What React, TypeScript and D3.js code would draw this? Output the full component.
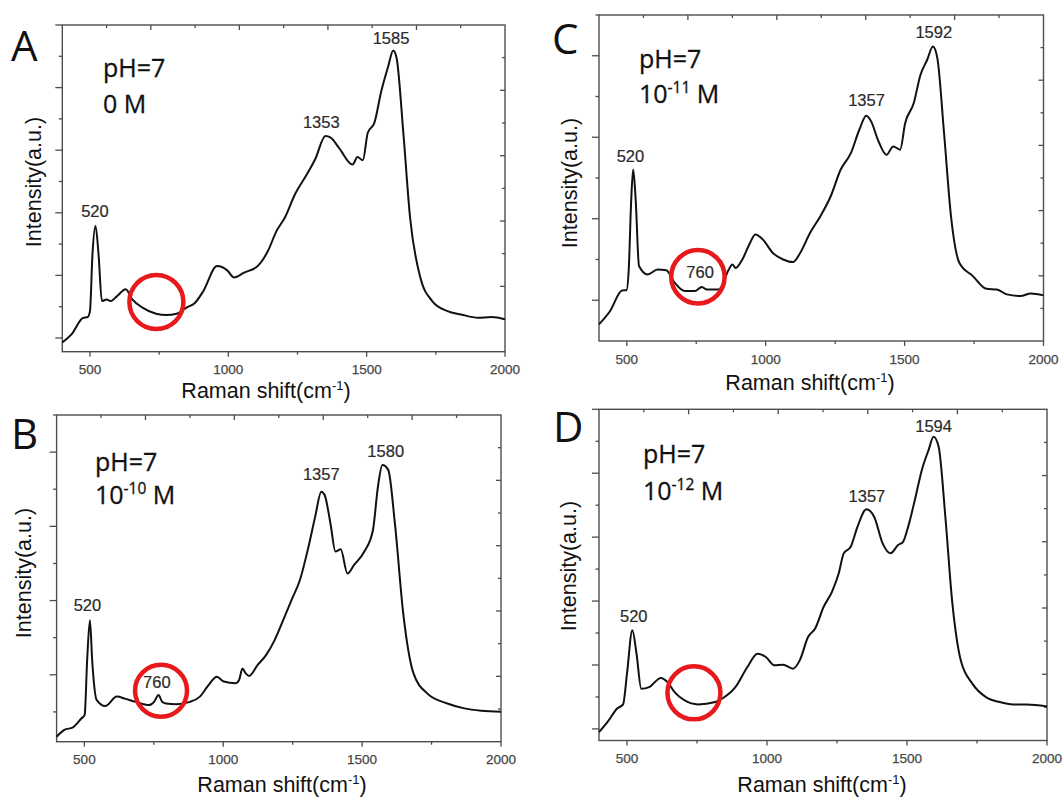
import React from "react";
import * as d3 from "d3";

// ---------- data ----------
const shiftMajorTicks = [500, 1000, 1500, 2000];
const shiftMinorTicks = [750, 1250, 1750];
const shiftTickLabels = ["500", "1000", "1500", "2000"];

const shiftA = [400, 433, 476, 492, 500, 509, 520, 531, 543, 561, 574, 598, 629, 653, 690, 739, 776, 813, 849, 880, 910, 959, 996, 1021, 1057, 1106, 1143, 1174, 1204, 1241, 1284, 1314, 1351, 1370, 1400, 1449, 1467, 1486, 1504, 1528, 1553, 1578, 1596, 1608, 1633, 1657, 1694, 1737, 1792, 1841, 1902, 1951, 2000];
const intensityA = [2.8, 5.3, 10.4, 10.6, 12.4, 29.8, 38.5, 29.8, 15.5, 16.0, 15.5, 17.0, 19.1, 16.0, 13.5, 11.6, 11.2, 11.6, 13.5, 15.0, 18.6, 26.2, 24.9, 22.7, 24.2, 26.2, 30.8, 36.9, 41.0, 48.2, 54.3, 58.9, 66.0, 65.5, 62.4, 57.3, 59.6, 58.6, 67.0, 70.1, 79.8, 87.4, 92.2, 90.0, 66.5, 41.0, 22.7, 15.5, 12.4, 11.4, 10.4, 10.6, 9.9];

const shiftB = [400, 428, 459, 489, 501, 510, 520, 528, 544, 575, 617, 648, 684, 733, 751, 767, 780, 794, 831, 880, 916, 947, 977, 1002, 1044, 1057, 1069, 1081, 1093, 1124, 1154, 1185, 1221, 1246, 1276, 1307, 1331, 1353, 1365, 1386, 1404, 1423, 1447, 1471, 1508, 1539, 1557, 1573, 1594, 1618, 1648, 1685, 1734, 1807, 1868, 1929, 2000];
const intensityB = [1.5, 3.6, 4.4, 7.1, 8.2, 25.0, 37.2, 25.0, 12.8, 10.9, 13.8, 13.1, 12.2, 11.2, 12.2, 14.3, 12.2, 11.7, 11.5, 12.2, 13.8, 17.3, 19.9, 18.4, 17.9, 18.9, 22.4, 20.9, 20.1, 23.5, 26.5, 31.1, 38.3, 43.4, 49.5, 59.7, 68.9, 76.5, 75.5, 66.8, 58.2, 58.9, 51.5, 54.1, 58.2, 64.8, 78.1, 84.7, 83.2, 66.8, 39.3, 20.9, 14.8, 11.7, 10.2, 9.5, 9.2];

const shiftC = [400, 440, 483, 499, 507, 516, 523, 532, 544, 575, 611, 642, 672, 709, 745, 770, 788, 831, 867, 880, 892, 916, 941, 963, 990, 1026, 1063, 1099, 1124, 1160, 1197, 1234, 1270, 1307, 1337, 1362, 1380, 1404, 1435, 1459, 1484, 1502, 1533, 1557, 1581, 1602, 1618, 1642, 1667, 1697, 1746, 1795, 1832, 1868, 1917, 1954, 2000];
const intensityC = [5.1, 9.2, 15.5, 15.6, 21.9, 43.4, 52.6, 43.4, 23.0, 20.4, 21.9, 21.7, 17.9, 15.3, 15.3, 16.6, 15.8, 15.8, 21.9, 23.5, 22.4, 25.0, 29.6, 32.7, 31.1, 27.0, 25.0, 24.2, 27.0, 33.2, 38.3, 44.4, 52.6, 57.7, 64.8, 69.1, 67.3, 61.7, 57.1, 59.7, 58.7, 66.8, 73.0, 81.6, 86.2, 90.3, 86.7, 63.8, 38.3, 24.0, 19.9, 16.0, 15.8, 14.3, 13.8, 14.6, 14.0];

const shiftD = [400, 434, 464, 486, 500, 519, 534, 551, 579, 621, 645, 670, 706, 754, 815, 839, 887, 930, 966, 996, 1026, 1057, 1093, 1117, 1147, 1172, 1202, 1232, 1256, 1274, 1299, 1323, 1355, 1383, 1413, 1441, 1468, 1486, 1504, 1528, 1553, 1577, 1595, 1613, 1637, 1661, 1692, 1734, 1782, 1831, 1879, 1927, 2000];
const intensityD = [2.5, 6.0, 9.6, 10.9, 20.2, 33.3, 26.2, 15.6, 16.1, 18.9, 17.6, 14.6, 12.1, 10.9, 11.6, 12.6, 16.1, 22.2, 26.2, 25.2, 22.7, 22.9, 21.7, 24.2, 31.3, 33.8, 40.3, 44.9, 50.4, 56.5, 58.5, 64.5, 69.8, 67.5, 59.5, 56.5, 59.0, 60.0, 64.5, 72.6, 81.7, 87.7, 91.7, 88.7, 67.5, 42.3, 24.2, 17.1, 13.1, 11.6, 10.9, 10.9, 10.3];

// peak annotations (text, anchor shift, anchor intensity)
const peakTextA = ["520", "1353", "1585"];
const peakShiftA = [518, 1336, 1588];
const peakLevelA = [41.3, 68.6, 94.1];
const peakTextB = ["520", "760", "1357", "1580"];
const peakShiftB = [511, 761, 1353, 1585];
const peakLevelB = [40.1, 16.3, 80.1, 87.1];
const peakTextC = ["520", "760", "1357", "1592"];
const peakShiftC = [513, 764, 1363, 1605];
const peakLevelC = [55.0, 19.2, 72.1, 93.0];
const peakTextD = ["520", "1357", "1594"];
const peakShiftD = [524, 1357, 1595];
const peakLevelD = [35.9, 72.1, 93.2];

// circled region (shift, intensity) per panel
const circleShift = [740, 776, 756, 739];
const circleLevel = [15.2, 15.6, 19.7, 14.4];

const panelLetters = ["A", "B", "C", "D"];
const concentrationBase = ["0", "10", "10", "10"];
const concentrationExp = ["", "-10", "-11", "-12"];

// ---------- layout ----------
const panels = [
  { letter: 0, shift: shiftA, level: intensityA, pt: peakTextA, ps: peakShiftA, pl: peakLevelA, circle: 0,
    x0: 62.3, x1: 505, y0: 25, y1: 351.7, leftStep: 9.58, leftN: 10, leftMajorOdd: false,
    letterX: 11, letterY: 61, phX: 103, phY: 76.7, concY: 113.3, titleX: 266, titleY: 398, yTitleX: 41, yTitleY: 182, r: 27 },
  { letter: 1, shift: shiftB, level: intensityB, pt: peakTextB, ps: peakShiftB, pl: peakLevelB, circle: 1,
    x0: 56.6, x1: 501, y0: 415, y1: 741.7, leftStep: 11.36, leftN: 8, leftMajorOdd: true,
    letterX: 11, letterY: 449, phX: 95, phY: 470.7, concY: 504, titleX: 282, titleY: 792, yTitleX: 31, yTitleY: 573, r: 26 },
  { letter: 2, shift: shiftC, level: intensityC, pt: peakTextC, ps: peakShiftC, pl: peakLevelC, circle: 2,
    x0: 599, x1: 1043.5, y0: 15, y1: 341, leftStep: 12.5, leftN: 7, leftMajorOdd: true,
    letterX: 552, letterY: 54, phX: 639, phY: 67.7, concY: 103.3, titleX: 810, titleY: 390, yTitleX: 577, yTitleY: 183, r: 26.7 },
  { letter: 3, shift: shiftD, level: intensityD, pt: peakTextD, ps: peakShiftD, pl: peakLevelD, circle: 3,
    x0: 599, x1: 1047, y0: 409.3, y1: 740.5, leftStep: 9.65, leftN: 10, leftMajorOdd: false,
    letterX: 553, letterY: 442, phX: 643, phY: 463, concY: 500, titleX: 822, titleY: 792, yTitleX: 576, yTitleY: 566, r: 26.5 },
];

const FRAME = "#4d4d4d";
const CIRCLE = "#e8191c";
const SANS = "'Liberation Sans', Arial, sans-serif";
const TEXTF = "'Open Sans', 'Noto Sans', sans-serif";

function Panel({ p }: { p: any }) {
  const x = d3.scaleLinear().domain([400, 2000]).range([p.x0, p.x1]);
  const y = d3.scaleLinear().domain([0, 100]).range([p.y1, p.y0]);
  const pts: [number, number][] = p.shift.map((s: number, i: number) => [s, p.level[i]]);
  const line = d3
    .line<[number, number]>()
    .x((d) => x(d[0]))
    .y((d) => y(d[1]))
    .curve(d3.curveMonotoneX);

  const leftTicks = d3.range(0, p.leftN + 1).map((k) => ({ v: 100 - k * p.leftStep, major: p.leftMajorOdd ? k % 2 === 1 : k % 2 === 0 }));
  const frac = d3.range(1, 10);
  const w = p.x1 - p.x0;
  const h = p.y1 - p.y0;
  const hasExp = !!concentrationExp[p.letter];

  return (
    <g>
      <rect x={p.x0} y={p.y0} width={w} height={h} fill="none" stroke={FRAME} strokeWidth={1.4} />
      {shiftMajorTicks.map((t) => (
        <line key={"bM" + t} x1={x(t)} x2={x(t)} y1={p.y1} y2={p.y1 + 5} stroke={FRAME} strokeWidth={1.3} />
      ))}
      {shiftMinorTicks.map((t) => (
        <line key={"bm" + t} x1={x(t)} x2={x(t)} y1={p.y1} y2={p.y1 + 3} stroke={FRAME} strokeWidth={1.3} />
      ))}
      {shiftMajorTicks.map((t, i) => (
        <text key={"bl" + t} x={x(t)} y={p.y1 + 22.5} textAnchor="middle" fontFamily={SANS} fontSize={13.5} fill="#474747" stroke="#474747" strokeWidth={0.25}>
          {shiftTickLabels[i]}
        </text>
      ))}
      {leftTicks.map((t, i) => (
        <line key={"l" + i} x1={p.x0 - (t.major ? 7 : 3.5)} x2={p.x0} y1={y(t.v)} y2={y(t.v)} stroke={FRAME} strokeWidth={1.3} />
      ))}
      {frac.map((k) => (
        <line key={"t" + k} x1={p.x0 + (w * k) / 10} x2={p.x0 + (w * k) / 10} y1={p.y0} y2={p.y0 + (k % 2 === 0 ? 5 : 3)} stroke={FRAME} strokeWidth={1.3} />
      ))}
      {frac.map((k) => (
        <line key={"r" + k} x1={p.x1 - (k % 2 === 0 ? 5 : 3)} x2={p.x1} y1={p.y0 + (h * k) / 10} y2={p.y0 + (h * k) / 10} stroke={FRAME} strokeWidth={1.3} />
      ))}
      <path d={line(pts) || ""} fill="none" stroke="#111" strokeWidth={2} strokeLinejoin="round" />
      {p.pt.map((t: string, i: number) => (
        <text key={"pk" + i} x={x(p.ps[i])} y={y(p.pl[i])} textAnchor="middle" fontFamily={SANS} fontSize={16.5} fill="#2a2a2a" stroke="#2a2a2a" strokeWidth={0.2}>
          {t}
        </text>
      ))}
      <circle cx={x(circleShift[p.circle])} cy={y(circleLevel[p.circle])} r={p.r} fill="none" stroke={CIRCLE} strokeWidth={4.5} />
      <text x={p.letterX} y={p.letterY} fontFamily={TEXTF} fontSize={42} fill="#111">
        {panelLetters[p.letter]}
      </text>
      <text x={p.phX} y={p.phY} fontFamily={TEXTF} fontSize={25} fill="#111" stroke="#111" strokeWidth={0.3}>
        pH=7
      </text>
      <text x={p.phX} y={p.concY} fontFamily={TEXTF} fontSize={25} fill="#111" stroke="#111" strokeWidth={0.3}>
        <tspan>{concentrationBase[p.letter]}</tspan>
        {hasExp ? (
          <tspan dy={-10} fontSize={15.5}>
            {concentrationExp[p.letter]}
          </tspan>
        ) : null}
        <tspan dy={hasExp ? 10 : 0}>{" M"}</tspan>
      </text>
      <text x={p.titleX} y={p.titleY} textAnchor="middle" fontFamily={SANS} fontSize={21.5} fill="#111">
        <tspan>Raman shift(cm</tspan>
        <tspan dy={-8} fontSize={13}>-1</tspan>
        <tspan dy={8}>)</tspan>
      </text>
      <text transform={`translate(${p.yTitleX},${p.yTitleY}) rotate(-90)`} textAnchor="middle" fontFamily={SANS} fontSize={21.5} fill="#111">
        Intensity(a.u.)
      </text>
    </g>
  );
}

export default function App() {
  return (
    <svg width={1064} height={801} viewBox="0 0 1064 801" style={{ position: "absolute", left: 0, top: 0, background: "#fff" }}>
      <rect x={0} y={0} width={1064} height={801} fill="#fff" />
      {panels.map((p, i) => (
        <Panel key={i} p={p} />
      ))}
    </svg>
  );
}
